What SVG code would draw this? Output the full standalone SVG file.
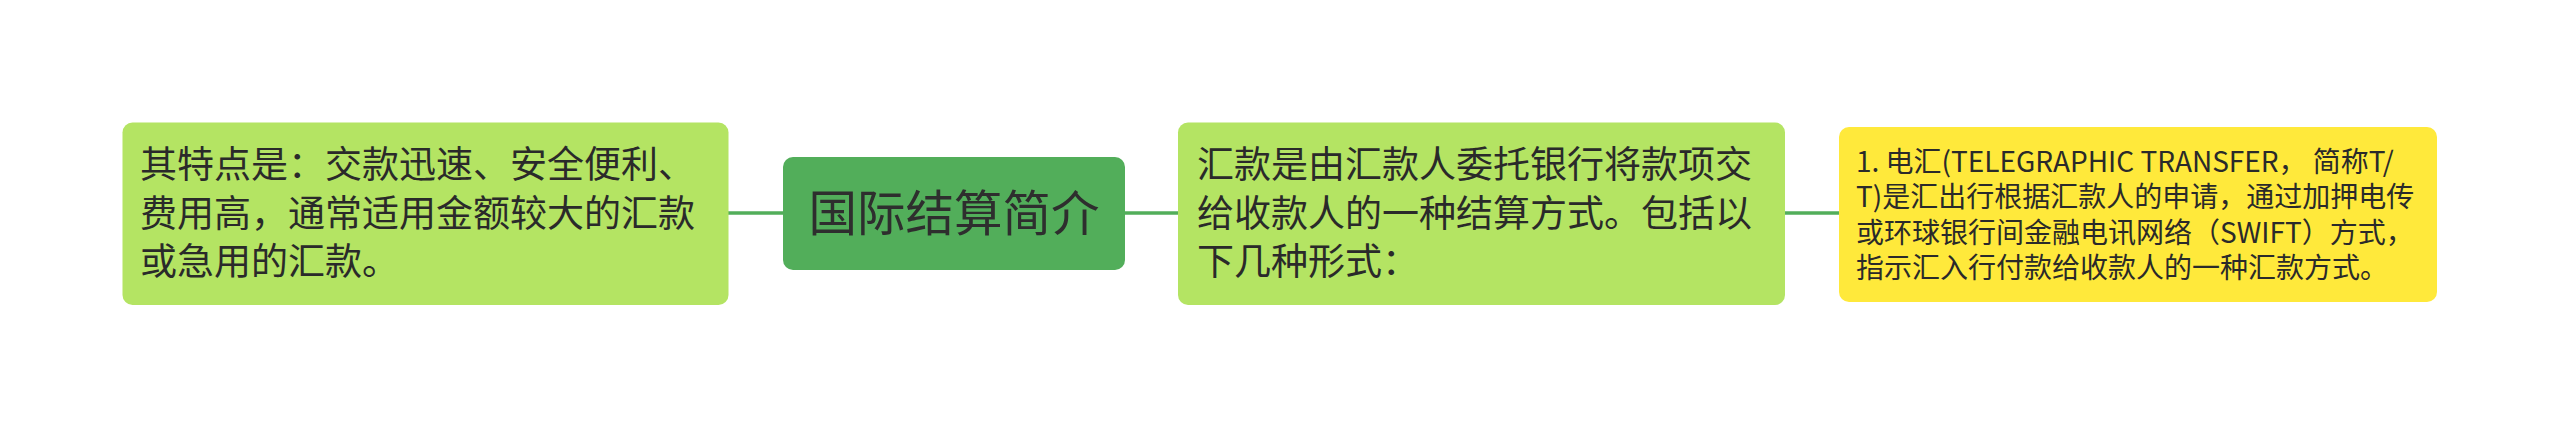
<svg xmlns="http://www.w3.org/2000/svg" width="2560" height="428" viewBox="0 0 2560 428">
<style>
.t{font-family:"Noto Sans CJK SC","Liberation Sans",sans-serif;fill:#2a2a2a}
.big{font-size:37px}
.root{font-size:48.5px;fill:#2e2e2e}
.small{font-size:28px}
.conn{stroke:#52ae5a;stroke-width:3.5;fill:none}
</style>
<rect width="2560" height="428" fill="#ffffff"/>
<g id="connectors">
<line class="conn" x1="728" y1="213" x2="784" y2="213"/>
<line class="conn" x1="1124" y1="213" x2="1179" y2="213"/>
<line class="conn" x1="1784" y1="213" x2="1840" y2="213"/>
</g>
<g id="node-left">
<rect x="122.5" y="122.5" width="606" height="182.5" rx="10" fill="#b4e463"/>
<text class="t big"><tspan x="140" y="178">其特点是：交款迅速、安全便利、</tspan><tspan x="140" y="226.5">费用高，通常适用金额较大的汇款</tspan><tspan x="140" y="275">或急用的汇款。</tspan></text>
</g>
<g id="node-root">
<rect x="783" y="157" width="342" height="113" rx="10" fill="#52ae5a"/>
<text class="t root" x="954" y="231" text-anchor="middle">国际结算简介</text>
</g>
<g id="node-middle">
<rect x="1178" y="122.5" width="607" height="182.5" rx="10" fill="#b4e463"/>
<text class="t big"><tspan x="1197" y="178">汇款是由汇款人委托银行将款项交</tspan><tspan x="1197" y="226.5">给收款人的一种结算方式。包括以</tspan><tspan x="1197" y="275">下几种形式：</tspan></text>
</g>
<g id="node-right">
<rect x="1839" y="127" width="598" height="175" rx="10" fill="#ffe93b"/>
<text class="t small"><tspan x="1856" y="171.5">1. 电汇(TELEGRAPHIC TRANSFER， 简称T/</tspan><tspan x="1856" y="207">T)是汇出行根据汇款人的申请，通过加押电传</tspan><tspan x="1856" y="242.5">或环球银行间金融电讯网络（SWIFT）方式，</tspan><tspan x="1856" y="278">指示汇入行付款给收款人的一种汇款方式。</tspan></text>
</g>
</svg>
